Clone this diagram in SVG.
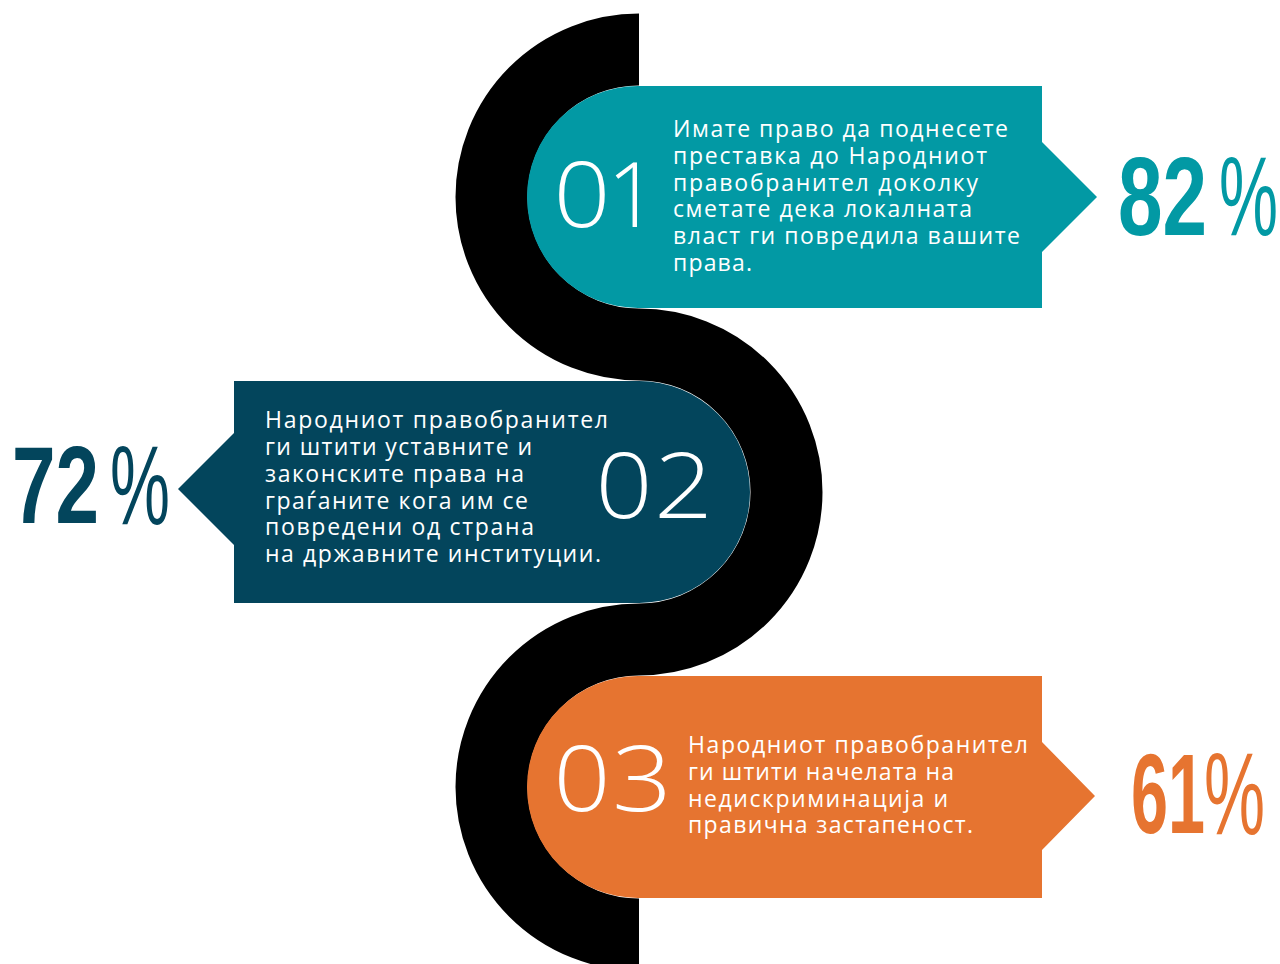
<svg xmlns="http://www.w3.org/2000/svg" width="1280" height="964" viewBox="0 0 1280 964">
<style>
.body{font-family:"Open Sans","Noto Sans","DejaVu Sans",sans-serif;font-size:23px;fill:#ffffff;}
.num{font-family:"Open Sans","Noto Sans",sans-serif;font-weight:350;font-size:90px;fill:#ffffff;}
.pct{font-family:"Liberation Sans",Arial,sans-serif;font-weight:700;}
.sym{font-family:"Liberation Sans",Arial,sans-serif;font-weight:400;}
.teal{fill:#0299A4;}
.navy{fill:#03455C;}
.orange{fill:#E67430;}
</style>
<rect width="1280" height="964" fill="#ffffff"/>
<g id="connectors">
<path d="M639 49.5 A147.5 147.5 0 0 0 639 344.5 A147.5 147.5 0 0 1 639 639.5 A147.5 147.5 0 0 0 639 934.5" fill="none" stroke="#000000" stroke-width="72"/>
</g>
<g id="node-01">
<path class="teal" d="M638 86 H1042 V142 L1097 197 L1042 252 V308 H638 A111 111 0 0 1 638 86 Z"/>
<text class="num" x="553.5" y="227" textLength="57" lengthAdjust="spacingAndGlyphs">0</text>
<text class="num" x="607" y="227">1</text>
<text class="body" x="673" y="137" textLength="335" lengthAdjust="spacing">Имате право да поднесете</text>
<text class="body" x="673" y="164" textLength="314" lengthAdjust="spacing">преставка до Народниот</text>
<text class="body" x="673" y="190.5" textLength="305" lengthAdjust="spacing">правобранител доколку</text>
<text class="body" x="673" y="217" textLength="299" lengthAdjust="spacing">сметате дека локалната</text>
<text class="body" x="673" y="244" textLength="347" lengthAdjust="spacing">власт ги повредила вашите</text>
<text class="body" x="673" y="270.5" textLength="79" lengthAdjust="spacing">права.</text>
<text class="pct teal" x="1118" y="235" font-size="112" textLength="89" lengthAdjust="spacingAndGlyphs">82</text>
<text class="sym teal" x="1219" y="235" font-size="114" textLength="59" lengthAdjust="spacingAndGlyphs">%</text>
</g>
<g id="node-02">
<path class="navy" d="M234 381 H639 A111 111 0 0 1 639 603 H234 V545 L178 489 L234 433 Z"/>
<text class="num" x="595.5" y="518" textLength="57" lengthAdjust="spacingAndGlyphs">0</text>
<text class="num" x="654" y="518" textLength="59" lengthAdjust="spacingAndGlyphs">2</text>
<text class="body" x="265" y="428" textLength="343" lengthAdjust="spacing">Народниот правобранител</text>
<text class="body" x="265" y="455" textLength="267" lengthAdjust="spacing">ги штити уставните и</text>
<text class="body" x="265" y="482" textLength="259" lengthAdjust="spacing">законските права на</text>
<text class="body" x="265" y="508.5" textLength="263" lengthAdjust="spacing">граѓаните кога им се</text>
<text class="body" x="265" y="535" textLength="269" lengthAdjust="spacing">повредени од страна</text>
<text class="body" x="265" y="562" textLength="336" lengthAdjust="spacing">на државните институции.</text>
<text class="pct navy" x="12" y="523" font-size="109" textLength="87" lengthAdjust="spacingAndGlyphs">72</text>
<text class="sym navy" x="110" y="524" font-size="113" textLength="60" lengthAdjust="spacingAndGlyphs">%</text>
</g>
<g id="node-03">
<path class="orange" d="M638 676 H1042 V742 L1095 796 L1042 850 V898 H638 A111 111 0 0 1 638 676 Z"/>
<text class="num" x="553.5" y="811" textLength="57" lengthAdjust="spacingAndGlyphs">0</text>
<text class="num" x="612" y="811" textLength="60" lengthAdjust="spacingAndGlyphs">3</text>
<text class="body" x="688" y="753" textLength="340" lengthAdjust="spacing">Народниот правобранител</text>
<text class="body" x="688" y="780" textLength="266" lengthAdjust="spacing">ги штити начелата на</text>
<text class="body" x="688" y="806.5" textLength="260" lengthAdjust="spacing">недискриминација и</text>
<text class="body" x="688" y="833" textLength="285" lengthAdjust="spacing">правична застапеност.</text>
<text class="pct orange" x="1131" y="833" font-size="113" textLength="74" lengthAdjust="spacingAndGlyphs">61</text>
<text class="sym orange" x="1204" y="834" font-size="116" textLength="61" lengthAdjust="spacingAndGlyphs">%</text>
</g>
</svg>
